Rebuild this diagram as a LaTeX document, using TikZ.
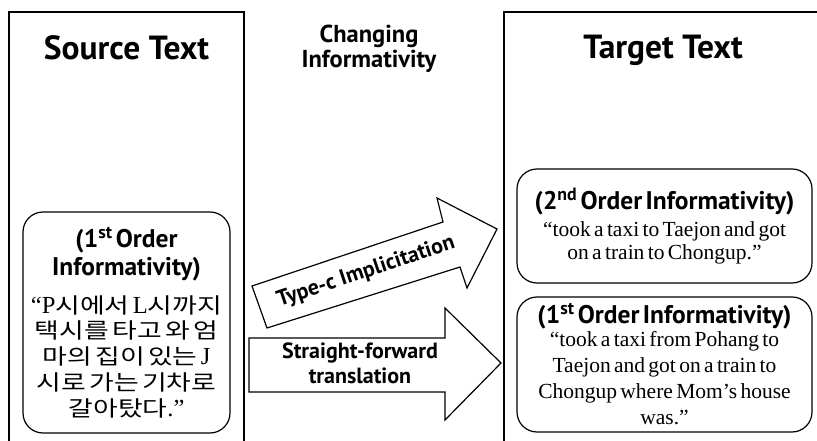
\documentclass[tikz,border=0pt]{standalone}
\usepackage{fontspec}
\setmainfont{Liberation Serif}
\newfontfamily\hfont{PT Sans}
\newfontfamily\kfont[FakeStretch=1.25]{Noto Sans CJK KR}
\newfontfamily\qfont{Liberation Serif}
\setlength{\parindent}{0pt}

% font set-ups for the different kinds of text
\newcommand\titlefont{\hfont\bfseries\fontsize{33.5}{36}\selectfont}
\newcommand\midfont{\hfont\bfseries\fontsize{24.5}{25}\selectfont}
\newcommand\headfont{\hfont\bfseries\fontsize{25.5}{28}\selectfont}
\newcommand\labelfont{\hfont\bfseries\fontsize{22}{25}\selectfont}
\newcommand\korfont{\kfont\fontsize{21.5}{25.75}\selectfont}
% Latin letters inside the Korean sentence
\newcommand\lat[1]{{\qfont\fontsize{24.5}{25.75}\selectfont #1}}

\begin{document}
\begin{tikzpicture}[x=1pt,y=-1pt,line width=1.2pt,
  frame/.style={draw=black,line cap=rect},
  infobox/.style={draw=black,rounded corners=20pt,fill=white,inner sep=2pt,align=center},
  title/.style={inner sep=0pt,font=\titlefont},
  arrowshape/.style={draw=black,fill=white,line join=miter},
  arrowlabel/.style={inner sep=0pt,align=center,font=\labelfont}]
\useasboundingbox (0,0) rectangle (817,441);

% column frames (open at the bottom)
\draw[frame] (9,441) -- (9,12) -- (244,12) -- (244,441);
\draw[frame] (504,441) -- (504,12) -- (817,12);

% column titles
\node[title,anchor=base] (srctitle) at (126.5,60) {Source Text};
\node[title,anchor=base] (tgttitle) at (663,59) {Target Text};
\node[inner sep=0pt,align=center,font=\midfont] (midtitle) at (369,49) {Changing\\Informativity};

% source box
\node[infobox,minimum width=207,minimum height=221,text width=203] (srcbox) at (126.5,322.5)
 {{\headfont (1\textsuperscript{st} Order\\Informativity)\par}
  \vspace{12pt}
  {\korfont \lat{“P}시에서 \lat{L}시까지\\택시를 타고 와 엄\\마의 집이 있는 \lat{J}\\시로 가는 기차로\\갈아탔다\lat{.”}\par}};

% target boxes
\node[infobox,minimum width=295,minimum height=114,text width=291] (tgt2) at (664.5,226)
 {{\headfont (2\textsuperscript{nd} Order Informativity)\par}
  \vspace{3.5pt}
  {\qfont\fontsize{21.5}{23.5}\selectfont “took a taxi to Taejon and got\\on a train to Chongup.”\par}};
\node[infobox,minimum width=295,minimum height=135,text width=291] (tgt1) at (664.5,364.5)
 {{\headfont (1\textsuperscript{st} Order Informativity)\par}
  \vspace{-3pt}
  {\qfont\fontsize{21.5}{26}\selectfont “took a taxi from Pohang to\\Taejon and got on a train to\\Chongup where Mom’s house\\was.”\par}};

% block arrows
\draw[arrowshape] (252,286) -- (443,222) -- (437,198) -- (497,229) -- (467,288) -- (460,267) -- (267,328) -- cycle;
\node[arrowlabel,rotate=18.5] (implic) at (366,272) {Type-c Implicitation};
\draw[arrowshape] (249,338) -- (445,338) -- (445,308) -- (501,363) -- (445,420) -- (445,392) -- (249,392) -- cycle;
\node[arrowlabel] (straight) at (360,363) {Straight-forward\\translation};
\end{tikzpicture}
\end{document}
